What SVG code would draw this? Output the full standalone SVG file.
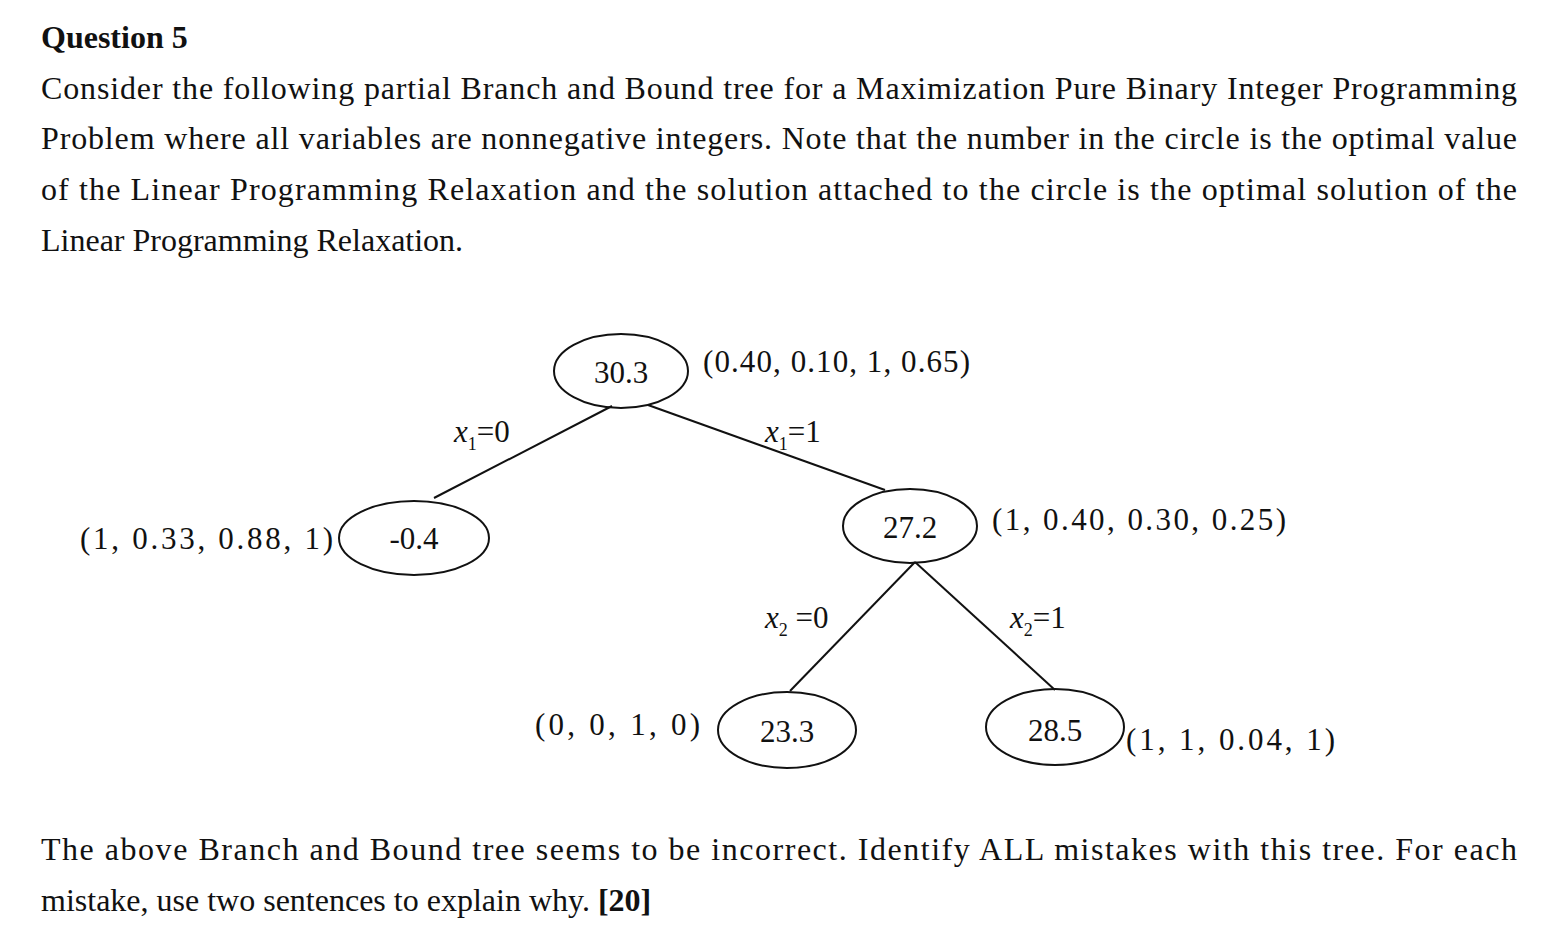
<svg xmlns="http://www.w3.org/2000/svg" width="1568" height="932" viewBox="0 0 1568 932" xml:space="preserve">
<style>
text{font-family:"Liberation Serif","Times New Roman",serif;fill:#111}
.p{font-size:32px}
.n{font-size:31px}
.e{font-size:31px}
ellipse{fill:none;stroke:#111;stroke-width:2}
line{stroke:#111;stroke-width:2}
</style>
<rect width="1568" height="932" fill="#fff"/>
<text x="41" y="48" class="p" font-weight="bold">Question 5</text>
<text x="41" y="99" class="p" textLength="1476" lengthAdjust="spacing">Consider the following partial Branch and Bound tree for a Maximization Pure Binary Integer Programming</text>
<text x="41" y="149" class="p" textLength="1476" lengthAdjust="spacing">Problem where all variables are nonnegative integers. Note that the number in the circle is the optimal value</text>
<text x="41" y="200" class="p" textLength="1476" lengthAdjust="spacing">of the Linear Programming Relaxation and the solution attached to the circle is the optimal solution of the</text>
<text x="41" y="251" class="p">Linear Programming Relaxation.</text>
<g id="connectors">
<line x1="612" y1="406" x2="434" y2="498"/>
<line x1="648" y1="405" x2="885" y2="490"/>
<line x1="915" y1="562" x2="790" y2="691"/>
<line x1="915" y1="562" x2="1055" y2="690"/>
</g>
<g id="edge-labels" class="e">
<text x="454" y="442" font-style="italic">x<tspan font-size="18" dy="8" font-style="normal">1</tspan><tspan dy="-8" font-style="normal">=0</tspan></text>
<text x="765" y="442" font-style="italic">x<tspan font-size="18" dy="8" font-style="normal">1</tspan><tspan dy="-8" font-style="normal">=1</tspan></text>
<text x="765" y="628" font-style="italic">x<tspan font-size="18" dy="8" font-style="normal">2</tspan><tspan dy="-8" font-style="normal"> =0</tspan></text>
<text x="1010" y="628" font-style="italic">x<tspan font-size="18" dy="8" font-style="normal">2</tspan><tspan dy="-8" font-style="normal">=1</tspan></text>
</g>
<g id="n303"><ellipse cx="621" cy="371" rx="67" ry="37"/><text x="621" y="383" class="n" text-anchor="middle">30.3</text><text x="703" y="372" class="n" textLength="267" lengthAdjust="spacing">(0.40,  0.10,  1, 0.65)</text></g>
<g id="n04"><ellipse cx="414" cy="538" rx="75" ry="37"/><text x="414" y="549" class="n" text-anchor="middle">-0.4</text><text x="80" y="549" class="n" textLength="253" lengthAdjust="spacing">(1,  0.33,  0.88, 1)</text></g>
<g id="n272"><ellipse cx="910" cy="526" rx="67" ry="37"/><text x="910" y="538" class="n" text-anchor="middle">27.2</text><text x="992" y="530" class="n" textLength="294" lengthAdjust="spacing">(1,  0.40,  0.30, 0.25)</text></g>
<g id="n233"><ellipse cx="787" cy="730" rx="69" ry="38"/><text x="787" y="742" class="n" text-anchor="middle">23.3</text><text x="535" y="735" class="n" textLength="165" lengthAdjust="spacing">(0, 0,  1,  0)</text></g>
<g id="n285"><ellipse cx="1055" cy="727" rx="69" ry="38"/><text x="1055" y="741" class="n" text-anchor="middle">28.5</text><text x="1126" y="750" class="n" textLength="209" lengthAdjust="spacing">(1,  1,  0.04, 1)</text></g>
<text x="41" y="860" class="p" textLength="1476" lengthAdjust="spacing">The above Branch and Bound tree seems to be incorrect. Identify ALL mistakes with this tree. For each</text>
<text x="41" y="911" class="p">mistake, use two sentences to explain why. <tspan font-weight="bold">[20]</tspan></text>
</svg>
